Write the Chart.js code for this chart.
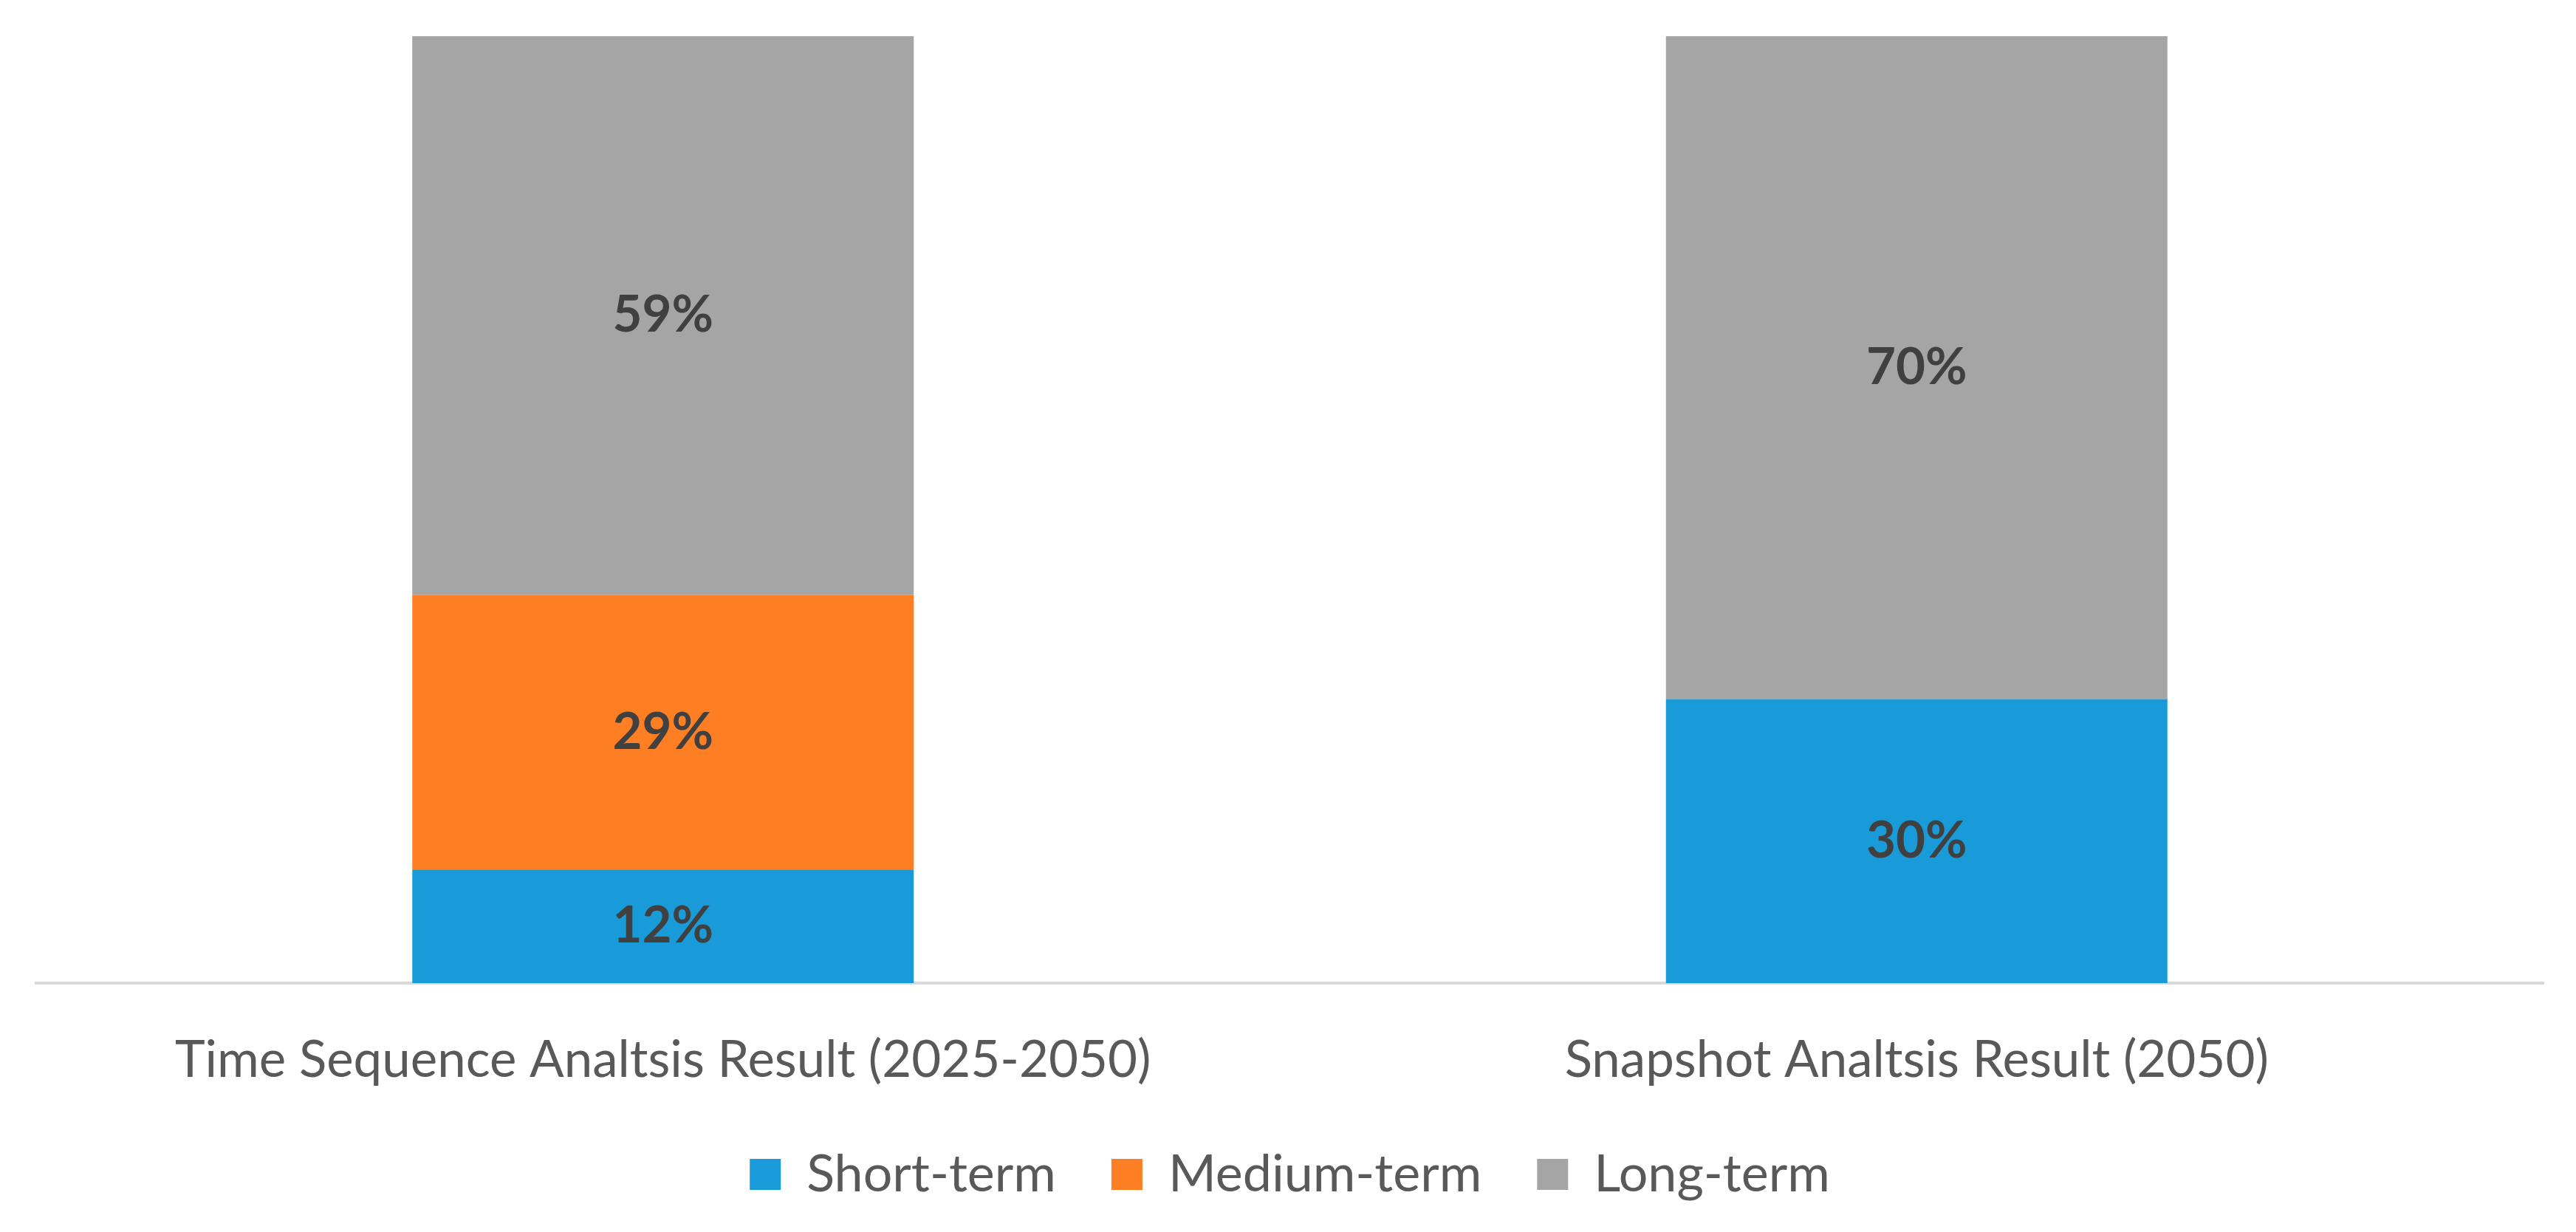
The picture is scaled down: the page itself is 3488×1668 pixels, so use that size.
<!DOCTYPE html>
<html>
<head>
<meta charset="utf-8">
<title>Analysis result shares</title>
<script src="https://cdn.jsdelivr.net/npm/chart.js@4/dist/chart.umd.min.js"></script>
<style>
    html, body { margin: 0; padding: 0; background: #fff; }
    .chart-box { width: 3488px; height: 1668px; }
</style>
</head>
<body>
<div class="chart-box"><canvas id="termChart"></canvas></div>
<script>
const categories = ['Time Sequence Analtsis Result (2025-2050)', 'Snapshot Analtsis Result (2050)'];
const shortTerm = [12, 30];
const mediumTerm = [29, 0];
const longTerm = [59, 70];

const fontFamily = 'Lato, "Open Sans", sans-serif';

// draws the % text in the middle of each bar segment
const segmentLabels = {
    id: 'segmentLabels',
    afterDatasetsDraw(chart) {
        const ctx = chart.ctx;
        ctx.save();
        ctx.font = 'bold 69px ' + fontFamily;
        ctx.fillStyle = '#404040';
        ctx.textAlign = 'center';
        ctx.textBaseline = 'middle';
        chart.data.datasets.forEach((ds, i) => {
            chart.getDatasetMeta(i).data.forEach((bar, j) => {
                const v = ds.data[j];
                if (!v) return;
                const p = bar.getProps(['x', 'y', 'base'], true);
                ctx.fillText(v + '%', p.x, (p.y + p.base) / 2);
            });
        });
        ctx.restore();
    }
};

document.addEventListener('DOMContentLoaded', function() {
    const ctx = document.getElementById('termChart');
    new Chart(ctx, {
        type: 'bar',
        data: {
            labels: categories,
            datasets: [
                { label: 'Short-term', data: shortTerm, backgroundColor: '#189BD8' },
                { label: 'Medium-term', data: mediumTerm, backgroundColor: '#FD7E23' },
                { label: 'Long-term', data: longTerm, backgroundColor: '#A5A5A5' }
            ]
        },
        options: {
            responsive: true,
            maintainAspectRatio: false,
            devicePixelRatio: 1,
            animation: false,
            categoryPercentage: 1,
            barPercentage: 0.4,
            layout: { padding: { left: 49, right: 44, top: 49, bottom: 33 } },
            scales: {
                x: {
                    stacked: true,
                    // invisible tick marks, only used to push the labels down
                    grid: {
                        display: true,
                        drawOnChartArea: false,
                        drawTicks: true,
                        tickLength: 60,
                        color: 'rgba(0,0,0,0)'
                    },
                    border: { display: true, color: '#D9D9D9', width: 4 },
                    ticks: {
                        color: '#595959',
                        padding: 10,
                        font: { family: fontFamily, size: 69, lineHeight: 1 }
                    }
                },
                y: {
                    stacked: true,
                    min: 0,
                    max: 100,
                    display: false
                }
            },
            plugins: {
                legend: {
                    position: 'bottom',
                    labels: {
                        color: '#595959',
                        boxWidth: 42,
                        boxHeight: 42,
                        padding: 75,
                        font: { family: fontFamily, size: 70 }
                    }
                },
                tooltip: { enabled: false }
            }
        },
        plugins: [segmentLabels]
    });
});
</script>
</body>
</html>
